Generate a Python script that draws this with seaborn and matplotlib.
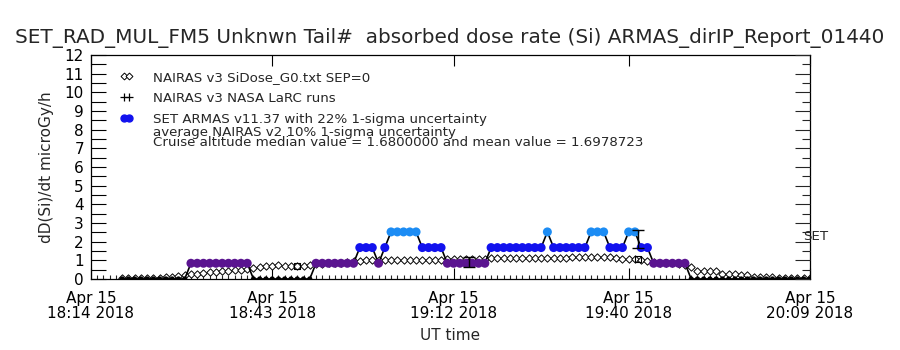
import numpy as np
import pandas as pd
import matplotlib
matplotlib.use("Agg")
import matplotlib.pyplot as plt
import matplotlib.dates as mdates
from matplotlib.lines import Line2D
import seaborn as sns

sns.set_theme(style="ticks")
plt.rcParams['font.family'] = ['DejaVu Sans']

day = "2018-04-15"
x_start = pd.Timestamp(f"{day} 18:14:00")
x_end = pd.Timestamp(f"{day} 20:09:00")
tick_hhmm = ["18:14", "18:43", "19:12", "19:40", "20:09"]

# SET ARMAS dose rate (microGy/h), one sample per minute starting 18:19, stored as runs of levels
armas_first_min = 5
armas_levels = [0.0, 0.84, 0.0, 0.84, 1.68, 0.84, 1.68, 2.52, 1.68, 0.84,
                1.68, 2.52, 1.68, 2.52, 1.68, 2.52, 1.68, 0.84, 0.0]
armas_counts = [11, 10, 10, 7, 3, 1, 1, 5, 4, 7, 9, 1, 6, 3, 3, 2, 2, 6, 20]
level_colors = {"0.00": "black", "0.84": "#5a1490", "1.68": "#1212ee", "2.52": "#1c8cf4"}
level_sizes = {"0.00": 14, "0.84": 42, "1.68": 42, "2.52": 42}

# NAIRAS v3 SiDose, one value per minute starting 18:19
nairas_first_min = 5
nairas_dose = [0.03, 0.03, 0.04, 0.04, 0.05, 0.05, 0.06, 0.08, 0.12, 0.16,
               0.20, 0.25, 0.28, 0.33, 0.36, 0.38, 0.40, 0.43, 0.46, 0.50,
               0.52, 0.58, 0.63, 0.67, 0.71, 0.73, 0.72, 0.70, 0.70, 0.70,
               0.75, 0.80, 0.80, 0.83, 0.85, 0.88, 0.90, 0.94, 0.98, 1.00,
               1.00, 1.00, 1.02, 1.02, 1.02, 1.02, 1.03, 1.03, 1.03, 1.03,
               1.04, 1.04, 1.05, 1.05, 1.05, 1.05, 1.05, 1.05, 1.06, 1.10,
               1.12, 1.12, 1.12, 1.12, 1.12, 1.12, 1.12, 1.12, 1.13, 1.13,
               1.13, 1.13, 1.15, 1.15, 1.17, 1.17, 1.18, 1.20, 1.17, 1.12,
               1.06, 1.06, 1.06, 1.02, 0.94, 0.90, 0.88, 0.86, 0.84, 0.80,
               0.75, 0.63, 0.45, 0.40, 0.40, 0.40, 0.27, 0.27, 0.27, 0.20,
               0.20, 0.12, 0.10, 0.09, 0.08, 0.07, 0.06, 0.06, 0.05, 0.05, 0.05]

# NAIRAS v3 NASA LaRC runs (minutes after 18:14)
larc_min = [33.0, 60.5, 87.5]
larc_dose = [0.70, 0.92, 1.08]
# uncertainty bars
err_min = [60.5, 87.5]
err_lo = [0.63, 1.65]
err_hi = [1.20, 2.60]

armas_dose = np.repeat(armas_levels, armas_counts)
armas = pd.DataFrame({
    "time": x_start + pd.to_timedelta(armas_first_min + np.arange(len(armas_dose)), unit="min"),
    "dose": armas_dose,
})
armas["level"] = armas["dose"].map(lambda v: f"{v:.2f}")
nairas = pd.DataFrame({
    "time": x_start + pd.to_timedelta(nairas_first_min + np.arange(len(nairas_dose)), unit="min"),
    "dose": nairas_dose,
})
larc = pd.DataFrame({"time": x_start + pd.to_timedelta(larc_min, unit="min"), "dose": larc_dose})
err_time = x_start + pd.to_timedelta(err_min, unit="min")

fig = plt.figure(figsize=(9, 3.5), dpi=100)
ax = fig.add_axes([0.101, 0.203, 0.799, 0.64])

sns.scatterplot(data=nairas, x="time", y="dose", marker="D", s=14, facecolor="white",
                edgecolor="black", linewidth=0.7, ax=ax, zorder=2)
sns.scatterplot(data=larc, x="time", y="dose", marker="s", s=16, facecolor="none",
                edgecolor="black", linewidth=0.8, ax=ax, zorder=2)
ax.errorbar(err_time, [(a + b) / 2 for a, b in zip(err_lo, err_hi)],
            yerr=[(b - a) / 2 for a, b in zip(err_lo, err_hi)],
            fmt="none", ecolor="black", elinewidth=1, capsize=4, zorder=5)
sns.lineplot(data=armas, x="time", y="dose", color="black", lw=1.2, ax=ax, zorder=3)
sns.scatterplot(data=armas, x="time", y="dose", hue="level", palette=level_colors,
                size="level", sizes=level_sizes, linewidth=0, legend=False, ax=ax, zorder=4)

ax.set_xlim(x_start, x_end)
ax.set_ylim(0, 12)
tick_times = [pd.Timestamp(f"{day} {h}:00") for h in tick_hhmm]
ax.set_xticks(tick_times)
ax.set_xticklabels([f"Apr 15\n{h} 2018" for h in tick_hhmm], fontsize=11, linespacing=0.95)
ax.xaxis.set_minor_locator(mdates.MinuteLocator())
ax.set_yticks(range(0, 13))
ax.set_yticklabels([str(i) for i in range(13)], fontsize=11)
ax.yaxis.set_minor_locator(matplotlib.ticker.MultipleLocator(0.5))
ax.tick_params(axis="x", which="major", direction="in", length=8, width=0.8, top=True, pad=9, colors="black")
ax.tick_params(axis="x", which="minor", direction="in", length=3, width=0.8, top=False)
ax.tick_params(axis="y", which="both", direction="in", length=11, width=0.8, pad=5, colors="black")
for s in ax.spines.values():
    s.set_color("black")
    s.set_linewidth(0.9)

ax2 = ax.twinx()
ax2.set_ylim(0, 12)
ax2.set_yticks(range(0, 13))
ax2.yaxis.set_minor_locator(matplotlib.ticker.MultipleLocator(0.5))
ax2.tick_params(axis="y", which="major", direction="in", length=11, width=0.8, labelright=False)
ax2.tick_params(axis="y", which="minor", direction="in", length=6, width=0.8)
for s in ax2.spines.values():
    s.set_visible(False)

ax.set_xlabel("UT time", fontsize=11, labelpad=5)
ax.set_ylabel("dD(Si)/dt microGy/h", fontsize=11, labelpad=8)
fig.text(0.5, 0.892, "SET_RAD_MUL_FM5 Unknwn Tail#  absorbed dose rate (Si) ARMAS_dirIP_Report_01440",
         ha="center", va="center", fontsize=14.4)

handles = [
    Line2D([], [], ls="none", marker="D", ms=3.5, mfc="white", mec="black", mew=0.7),
    Line2D([], [], ls="none", marker="+", ms=6, color="black", mew=0.9),
    Line2D([], [], ls="none", marker="o", ms=5, color="#1212ee"),
]
labels = ["NAIRAS v3 SiDose_G0.txt SEP=0", "NAIRAS v3 NASA LaRC runs",
          "SET ARMAS v11.37 with 22% 1-sigma uncertainty"]
ax.legend(handles, labels, loc="upper left", bbox_to_anchor=(0.033, 0.952), frameon=False,
          numpoints=2, handlelength=1.0, handletextpad=1.45, labelspacing=0.58, fontsize=9.6,
          borderaxespad=0)
ax.text(0.086, 0.655, "average NAIRAS v2 10% 1-sigma uncertainty", transform=ax.transAxes,
        fontsize=9.6, va="center")
ax.text(0.086, 0.61, "Cruise altitude median value = 1.6800000 and mean value = 1.6978723",
        transform=ax.transAxes, fontsize=9.6, va="center")
ax.text(0.99, 2.3, "SET", transform=ax.get_yaxis_transform(), fontsize=9.6, va="center")

fig.savefig("out.png", dpi=100, facecolor="white")
